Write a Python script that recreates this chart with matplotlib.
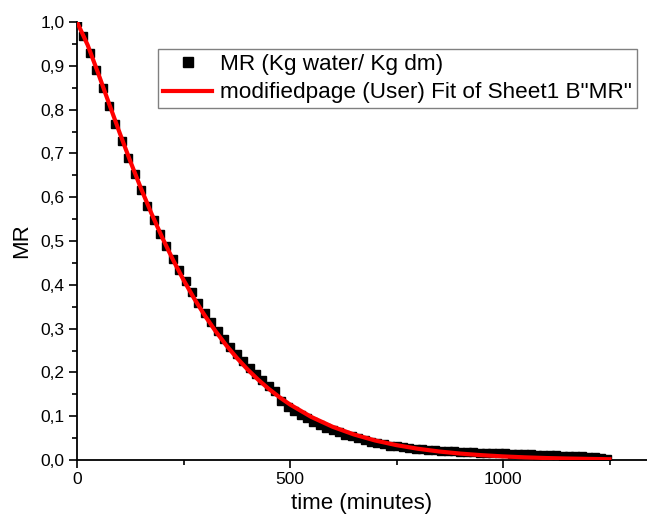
import matplotlib
matplotlib.use("Agg")
import matplotlib.pyplot as plt
from matplotlib.ticker import MultipleLocator, FuncFormatter

plt.rcParams['font.family'] = ['Liberation Sans', 'DejaVu Sans']

# Measured data: time (minutes), moisture ratio
time_min = list(range(0, 1246, 15))
mr_data = [
    1.000, 0.968, 0.930, 0.890, 0.850, 0.808, 0.768, 0.728, 0.690, 0.652,
    0.616, 0.581, 0.548, 0.517, 0.488, 0.460, 0.434, 0.408, 0.383, 0.359,
    0.336, 0.315, 0.295, 0.276, 0.258, 0.241, 0.225, 0.210, 0.196, 0.183,
    0.170, 0.157, 0.134, 0.122, 0.112, 0.103, 0.095, 0.087, 0.080, 0.074,
    0.068, 0.063, 0.058, 0.054, 0.050, 0.046, 0.042, 0.039, 0.036, 0.033,
    0.031, 0.029, 0.027, 0.025, 0.024, 0.023, 0.022, 0.021, 0.020, 0.020,
    0.019, 0.018, 0.018, 0.017, 0.016, 0.016, 0.015, 0.015, 0.014, 0.014,
    0.013, 0.013, 0.012, 0.012, 0.011, 0.011, 0.010, 0.010, 0.009, 0.008,
    0.007, 0.006, 0.005, 0.003,
]

# Modified Page fit curve
fit_time = [0, 25, 50, 75, 100, 125, 150, 175, 200, 225, 250, 275, 300, 325,
            350, 375, 400, 425, 450, 475, 500, 550, 600, 650, 700, 750, 800,
            850, 900, 950, 1000, 1050, 1100, 1150, 1200, 1250]
fit_mr = [1.000, 0.9475, 0.8822, 0.8144, 0.7473, 0.6823, 0.6205, 0.5623,
          0.5080, 0.4577, 0.4112, 0.3687, 0.3298, 0.2944, 0.2623, 0.2333,
          0.2071, 0.1836, 0.1625, 0.1436, 0.1267, 0.0983, 0.0759, 0.0583,
          0.0445, 0.0339, 0.0257, 0.0194, 0.0146, 0.0110, 0.0082, 0.0061,
          0.0045, 0.0034, 0.0025, 0.0018]

legend_labels = ['MR (Kg water/ Kg dm)', 'modifiedpage (User) Fit of Sheet1 B"MR"']

W, H = 647, 526
fig = plt.figure(figsize=(W / 100, H / 100), dpi=100)
ax = fig.add_axes([77 / W, 1 - 460 / H, (W - 77) / W, 438 / H])

ax.plot(time_min, mr_data, linestyle='none', marker='s', markersize=6,
        color='black', label=legend_labels[0], zorder=2)
ax.plot(fit_time, fit_mr, color='#ff0000', linewidth=3,
        label=legend_labels[1], zorder=3)

ax.set_xlim(0, 1338)
ax.set_ylim(0, 1.0)

for s in ['top', 'right']:
    ax.spines[s].set_visible(False)
for s in ['left', 'bottom']:
    ax.spines[s].set_linewidth(1.3)
    ax.spines[s].set_color('black')

ax.xaxis.set_major_locator(MultipleLocator(500))
ax.xaxis.set_minor_locator(MultipleLocator(250))
ax.yaxis.set_major_locator(MultipleLocator(0.1))
ax.yaxis.set_minor_locator(MultipleLocator(0.05))
ax.yaxis.set_major_formatter(FuncFormatter(lambda v, p: f"{v:.1f}".replace('.', ',')))
ax.xaxis.set_major_formatter(FuncFormatter(lambda v, p: f"{int(round(v))}"))

ax.tick_params(which='major', direction='out', length=6, width=1.2, labelsize=12.5, pad=3)
ax.tick_params(which='minor', direction='out', length=3.5, width=1.2)

ax.set_xlabel('time (minutes)', fontsize=16, labelpad=4)
ax.set_ylabel('MR', fontsize=16, labelpad=6)

leg = ax.legend(loc='upper right', bbox_to_anchor=(637 / W, 1 - 49 / H),
                bbox_transform=fig.transFigure, borderaxespad=0,
                fontsize=16.2, frameon=True, fancybox=False, framealpha=1,
                edgecolor='#808080', handlelength=2.2, handletextpad=0.35,
                borderpad=0.22, labelspacing=0.33, markerscale=1.2)
leg.get_frame().set_linewidth(1.0)

fig.savefig('out.png', dpi=100)
